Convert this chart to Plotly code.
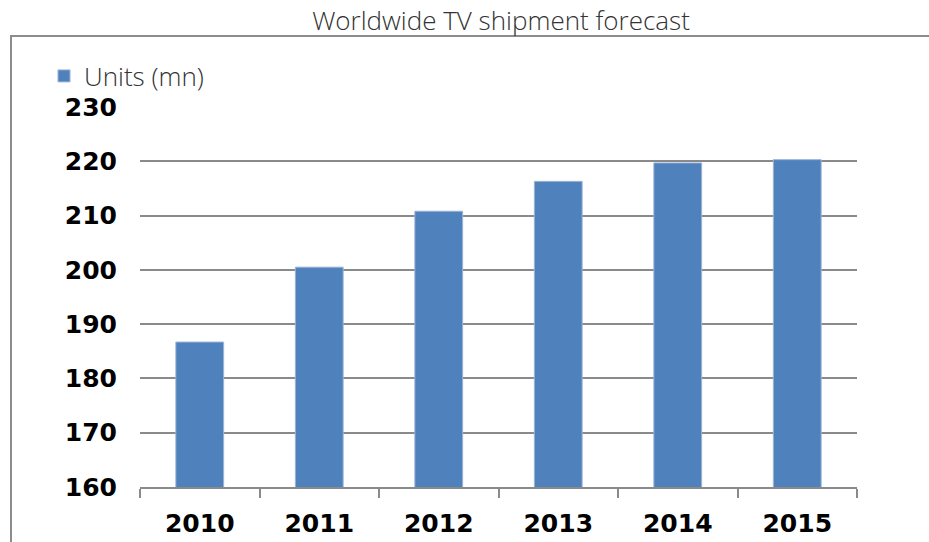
import plotly.graph_objects as go

# Forecast figures, millions of units shipped
years = ["2010", "2011", "2012", "2013", "2014", "2015"]
units_mn = [186.7, 200.5, 210.8, 216.3, 219.7, 220.3]
y_ticks = [160, 170, 180, 190, 200, 210, 220, 230]

W, H = 929, 542
L, R, T, B = 140, 72, 107, 55
pw, ph = W - L - R, H - T - B


def px_x(x):
    return (x - L) / pw


def px_y(y):
    return (H - B - y) / ph


fig = go.Figure()
fig.add_trace(go.Bar(
    x=years, y=units_mn, name="Units (mn)",
    marker=dict(color="#4f81bd", line=dict(color="#9bb4d6", width=1)),
    showlegend=True,
))

grid = "#8a8a8a"
light_font = dict(family="Open Sans", size=26, color="#333333", weight=300)
bold_font = dict(family="DejaVu Sans", size=25, color="black", weight="bold")

fig.update_layout(
    width=W, height=H,
    margin=dict(l=L, r=R, t=T, b=B, autoexpand=False),
    paper_bgcolor="white", plot_bgcolor="white",
    bargap=0.6,
    title=dict(text="Worldwide TV shipment forecast", x=501 / W, xref="container",
               xanchor="center", y=1 - 21 / H, yanchor="middle", font=light_font),
    legend=dict(x=px_x(44), y=px_y(76), xanchor="left", yanchor="middle",
                bgcolor="rgba(0,0,0,0)", itemwidth=30, font=light_font),
    xaxis=dict(type="category", showgrid=False, showline=True, linecolor=grid, linewidth=1.5,
               ticks="outside", tickson="boundaries", ticklen=9, tickcolor=grid, tickwidth=1.5,
               ticklabelstandoff=13, tickfont=bold_font, automargin=False),
    yaxis=dict(range=[160, 230], tickvals=y_ticks, showgrid=True, gridcolor=grid, gridwidth=1.5,
               showline=False, zeroline=False, ticks="", ticklabelstandoff=22,
               tickfont=bold_font, automargin=False),
    shapes=[dict(type="rect", xref="paper", yref="paper",
                 x0=px_x(11), x1=px_x(W + 20), y0=px_y(H + 20), y1=px_y(36),
                 line=dict(color="#8c8c8c", width=2), fillcolor="rgba(0,0,0,0)", layer="below")],
)

fig.write_html("out.html")
